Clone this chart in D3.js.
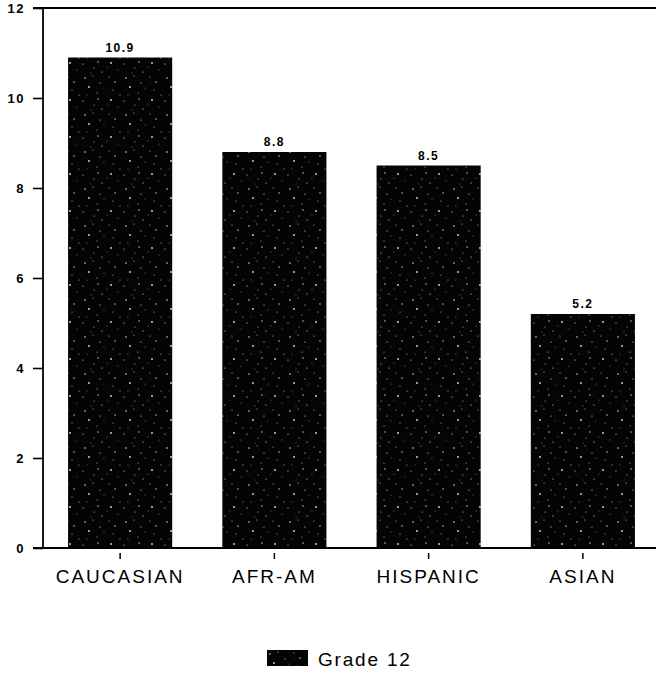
<!DOCTYPE html>
<html>
<head>
<meta charset="utf-8">
<script src="https://cdn.jsdelivr.net/npm/d3@7"></script>
<style>
  html, body { margin: 0; padding: 0; background: #fff; }
  svg { display: block; }
  text { font-family: "Liberation Sans", Arial, Helvetica, sans-serif; fill: #000; }
</style>
</head>
<body>
<svg id="chart" width="656" height="676"></svg>
<script>
// Mean values by group, Grade 12
const categories = ["CAUCASIAN", "AFR-AM", "HISPANIC", "ASIAN"];
const grade12 = [10.9, 8.8, 8.5, 5.2];
const yTicks = [0, 2, 4, 6, 8, 10, 12];
const seriesName = "Grade 12";

const svg = d3.select("#chart");
const W = 656;
const plotLeft = 43, plotTop = 8, plotBottom = 548;

const x = d3.scaleBand()
  .domain(categories)
  .range([plotLeft, 660])
  .paddingInner(0.325)
  .paddingOuter(0.1625);

const y = d3.scaleLinear().domain([0, 12]).range([plotBottom, plotTop]);

// Speckled dark fill for the bars (fixed dot layout in a tile)
const defs = svg.append("defs");
const pat = defs.append("pattern")
  .attr("id", "speckle")
  .attr("patternUnits", "userSpaceOnUse")
  .attr("width", 41).attr("height", 37);
pat.append("rect").attr("width", 41).attr("height", 37).attr("fill", "#040404");
const dots = [
  [3,4,0.8],[11,2,0.5],[18,9,0.6],[7,13,0.9],[15,19,0.5],[27,3,0.5],[1,27,0.6],
  [22,14,0.4],[33,8,0.7],[38,21,0.5],[29,26,0.9],[12,31,0.5],[20,35,0.6],
  [36,33,0.4],[5,21,0.4],[25,30,0.4],[31,16,0.5],[16,25,0.7],[9,36,0.4]
];
pat.selectAll("circle").data(dots).join("circle")
  .attr("cx", d => d[0]).attr("cy", d => d[1]).attr("r", d => d[2])
  .attr("fill", "#e0e0e0");

// Bars
svg.append("g").selectAll("rect")
  .data(categories)
  .join("rect")
  .attr("x", d => x(d))
  .attr("y", (d, i) => y(grade12[i]))
  .attr("width", x.bandwidth())
  .attr("height", (d, i) => y(0) - y(grade12[i]))
  .attr("fill", "url(#speckle)");

// Value labels
svg.append("g").selectAll("text")
  .data(categories)
  .join("text")
  .attr("x", d => x(d) + x.bandwidth() / 2)
  .attr("y", (d, i) => y(grade12[i]) - 6)
  .attr("text-anchor", "middle")
  .attr("font-size", 12)
  .attr("font-weight", "bold")
  .attr("letter-spacing", 1.5)
  .text((d, i) => grade12[i].toFixed(1));

// Y axis
const yAxis = svg.append("g")
  .attr("transform", `translate(${plotLeft},0)`)
  .call(d3.axisLeft(y).tickValues(yTicks).tickSize(10).tickPadding(8).tickFormat(d3.format("d")));
yAxis.select(".domain").remove();
yAxis.selectAll(".tick line").attr("stroke", "#000").attr("stroke-width", 1.6);
yAxis.selectAll(".tick text")
  .attr("font-size", 13)
  .attr("font-weight", "bold")
  .attr("letter-spacing", 1.5)
  .attr("font-family", "\"Liberation Sans\", Arial, sans-serif");

svg.append("line")
  .attr("x1", plotLeft).attr("x2", plotLeft)
  .attr("y1", y(12)).attr("y2", y(0))
  .attr("stroke", "#000").attr("stroke-width", 1.8);

// Top frame line and baseline
svg.append("line")
  .attr("x1", plotLeft - 10).attr("x2", W)
  .attr("y1", y(12)).attr("y2", y(12))
  .attr("stroke", "#000").attr("stroke-width", 2);
svg.append("line")
  .attr("x1", plotLeft - 10).attr("x2", W)
  .attr("y1", y(0)).attr("y2", y(0))
  .attr("stroke", "#000").attr("stroke-width", 1.8);

// X axis ticks and labels
const xAxis = svg.append("g")
  .attr("transform", `translate(0,${plotBottom})`)
  .call(d3.axisBottom(x).tickSize(6).tickPadding(16));
xAxis.select(".domain").remove();
xAxis.selectAll(".tick line").attr("stroke", "#000").attr("stroke-width", 1.5).attr("y1", 5).attr("y2", 11);
xAxis.selectAll(".tick text")
  .attr("font-size", 19)
  .attr("letter-spacing", 2)
  .attr("font-family", "\"Liberation Sans\", Arial, sans-serif");

// Legend
const lg = svg.append("g").attr("transform", "translate(267,650)");
lg.append("rect").attr("width", 41).attr("height", 16).attr("fill", "url(#speckle)");
lg.append("text")
  .attr("x", 51).attr("y", 16)
  .attr("font-size", 19)
  .attr("letter-spacing", 1.8)
  .text(seriesName);
</script>
</body>
</html>
